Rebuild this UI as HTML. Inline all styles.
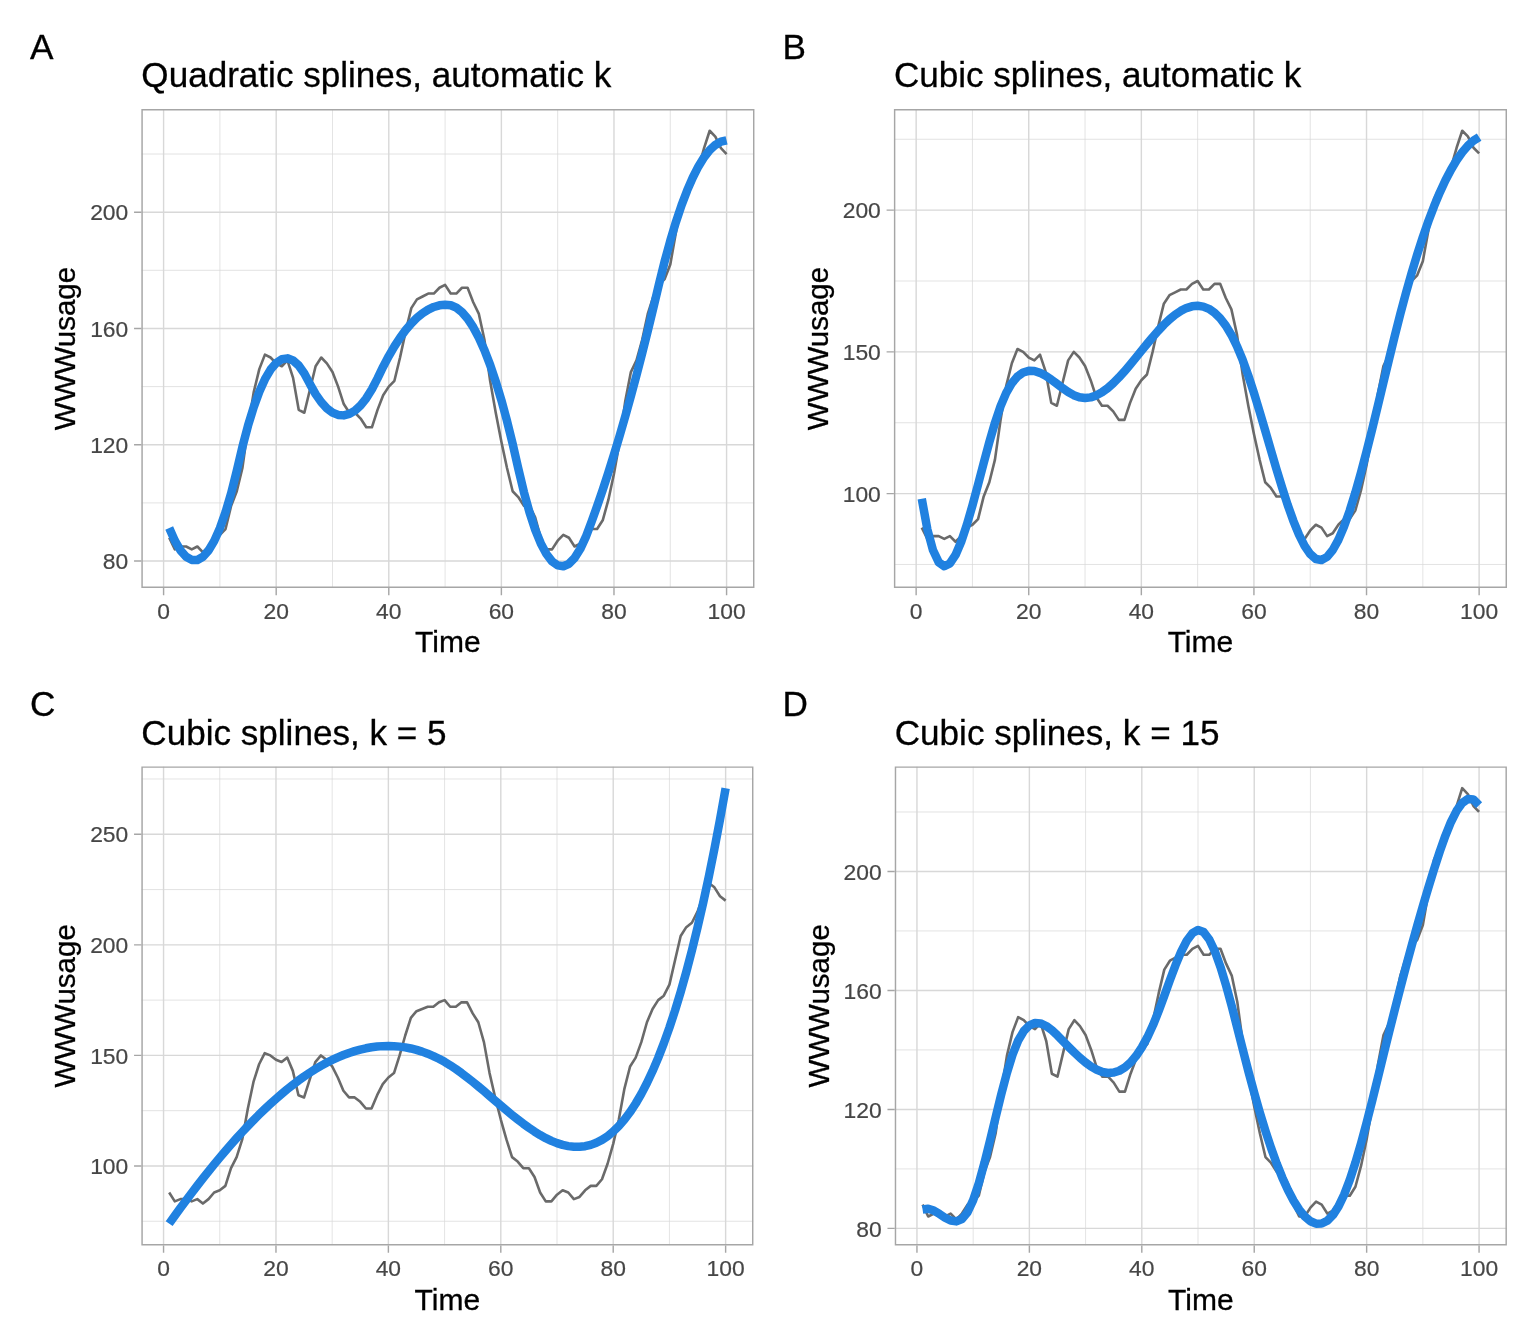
<!DOCTYPE html>
<html lang="en"><head><meta charset="utf-8"><title>Spline smoothing of WWWusage</title>
<style>html,body{margin:0;padding:0;background:#fff}svg{display:block}</style></head>
<body>
<svg width="1536" height="1344" viewBox="0 0 1536 1344" font-family='"Liberation Sans", sans-serif'>
<rect width="1536" height="1344" fill="#fff"/>
<clipPath id="cA"><rect x="141.35" y="109" width="613.1" height="479"/></clipPath>
<g clip-path="url(#cA)">
<path d="M141.35 502.88H754.45M141.35 386.6H754.45M141.35 270.31H754.45M141.35 154.03H754.45M219.89 109V588M332.49 109V588M445.09 109V588M557.68 109V588M670.28 109V588" stroke="#D8D8D8" stroke-width="0.71" fill="none"/>
<path d="M141.35 561.02H754.45M141.35 444.74H754.45M141.35 328.45H754.45M141.35 212.17H754.45M163.59 109V588M276.19 109V588M388.79 109V588M501.38 109V588M613.98 109V588M726.58 109V588" stroke="#D8D8D8" stroke-width="1.42" fill="none"/>
<polyline points="169.22,537.76 174.85,549.39 180.48,546.48 186.11,546.48 191.74,549.39 197.37,546.48 203,552.3 208.63,546.48 214.26,537.76 219.89,534.86 225.52,529.04 231.15,505.79 236.78,491.25 242.41,467.99 248.04,427.29 253.67,392.41 259.3,369.15 264.93,354.62 270.56,357.52 276.19,363.34 281.82,366.25 287.45,360.43 293.08,377.87 298.71,409.85 304.34,412.76 309.97,389.5 315.6,366.25 321.23,357.52 326.86,363.34 332.49,372.06 338.12,386.6 343.75,404.04 349.38,412.76 355.01,412.76 360.64,418.57 366.27,427.29 371.9,427.29 377.53,409.85 383.16,395.32 388.79,386.6 394.42,380.78 400.05,357.52 405.68,331.36 411.31,308.1 416.94,299.38 422.57,296.48 428.2,293.57 433.83,293.57 439.46,287.75 445.09,284.85 450.71,293.57 456.34,293.57 461.97,287.75 467.6,287.75 473.23,302.29 478.86,313.92 484.49,340.08 490.12,380.78 495.75,412.76 501.38,441.83 507.01,467.99 512.64,491.25 518.27,497.06 523.9,505.79 529.53,505.79 535.16,517.41 540.79,537.76 546.42,549.39 552.05,549.39 557.68,540.67 563.31,534.86 568.94,537.76 574.57,546.48 580.2,543.58 585.83,534.86 591.46,529.04 597.09,529.04 602.72,520.32 608.35,499.97 613.98,473.81 619.61,441.83 625.24,401.13 630.87,372.06 636.5,360.43 642.13,340.08 647.76,313.92 653.39,296.48 659.02,284.85 664.65,279.03 670.28,264.5 675.91,232.52 681.54,200.54 687.17,188.91 692.8,183.1 698.43,168.56 704.06,148.22 709.69,130.77 715.32,136.59 720.95,148.22 726.58,154.03" stroke="#6A6A6A" stroke-width="2.6" fill="none" stroke-linejoin="round"/>
<polyline points="169.22,527.98 174.85,540.75 180.48,550.33 186.11,556.72 191.74,559.93 197.37,559.95 203,556.78 208.63,550.43 214.26,540.9 219.89,528.17 225.52,512.27 231.15,493.17 236.78,470.9 242.41,446.93 248.04,425.61 253.67,407.22 259.3,391.75 264.93,379.22 270.56,369.61 276.19,362.93 281.82,359.18 287.45,358.35 293.08,360.46 298.71,365.49 304.34,373.45 309.97,384.12 315.6,394.07 321.23,402.13 326.86,408.29 332.49,412.55 338.12,414.92 343.75,415.38 349.38,413.95 355.01,410.63 360.64,405.4 366.27,398.27 371.9,389.25 377.53,378.33 383.16,366.69 388.79,356.03 394.42,346.39 400.05,337.74 405.68,330.1 411.31,323.46 416.94,317.83 422.57,313.2 428.2,309.58 433.83,306.96 439.46,305.34 445.09,304.73 450.71,305.25 456.34,307.68 461.97,312.14 467.6,318.63 473.23,327.15 478.86,337.7 484.49,350.29 490.12,364.9 495.75,381.55 501.38,400.23 507.01,420.94 512.64,443.69 518.27,468.44 523.9,492.07 529.53,512.44 535.16,529.56 540.79,543.41 546.42,554 552.05,561.34 557.68,565.41 563.31,566.23 568.94,563.78 574.57,558.08 580.2,549.11 585.83,536.89 591.46,522.02 597.09,506.3 602.72,489.82 608.35,472.59 613.98,454.62 619.61,435.89 625.24,416.42 630.87,396.2 636.5,375.23 642.13,353.51 647.76,331.04 653.39,307.82 659.02,283.98 664.65,261.4 670.28,240.76 675.91,222.04 681.54,205.25 687.17,190.39 692.8,177.45 698.43,166.44 704.06,157.36 709.69,150.2 715.32,144.98 720.95,141.68 726.58,140.3" stroke="#2081E0" stroke-width="8.5" fill="none" stroke-linejoin="round"/>
</g>
<path d="M141.35 109h613.1v479h-613.1zM142.8 110.45v476.1h610.2v-476.1z" fill="#A6A6A6" fill-rule="evenodd"/>
<path d="M134.05 561.02H141.35M134.05 444.74H141.35M134.05 328.45H141.35M134.05 212.17H141.35M163.59 588V595.3M276.19 588V595.3M388.79 588V595.3M501.38 588V595.3M613.98 588V595.3M726.58 588V595.3" stroke="#A6A6A6" stroke-width="1.42" fill="none"/>
<g font-size="22.85" fill="#464646" stroke="#464646" stroke-width="0.2">
<text x="128.25" y="569.12" text-anchor="end">80</text>
<text x="128.25" y="452.84" text-anchor="end">120</text>
<text x="128.25" y="336.55" text-anchor="end">160</text>
<text x="128.25" y="220.27" text-anchor="end">200</text>
<text x="163.59" y="618.9" text-anchor="middle">0</text>
<text x="276.19" y="618.9" text-anchor="middle">20</text>
<text x="388.79" y="618.9" text-anchor="middle">40</text>
<text x="501.38" y="618.9" text-anchor="middle">60</text>
<text x="613.98" y="618.9" text-anchor="middle">80</text>
<text x="726.58" y="618.9" text-anchor="middle">100</text>
</g>
<text x="447.9" y="652.4" font-size="30" text-anchor="middle" fill="#000" stroke="#000" stroke-width="0.3">Time</text>
<text transform="translate(75.45 348.5) rotate(-90)" font-size="29.5" text-anchor="middle" fill="#000" stroke="#000" stroke-width="0.3">WWWusage</text>
<text x="141.35" y="87.4" font-size="35.1" fill="#000" stroke="#000" stroke-width="0.3">Quadratic splines, automatic k</text>
<text x="30.05" y="58.7" font-size="35.2" fill="#000" stroke="#000" stroke-width="0.3">A</text>
<clipPath id="cB"><rect x="893.9" y="109" width="613.1" height="479"/></clipPath>
<g clip-path="url(#cB)">
<path d="M893.9 564.46H1507M893.9 422.73H1507M893.9 281H1507M893.9 139.28H1507M972.44 109V588M1085.04 109V588M1197.64 109V588M1310.23 109V588M1422.83 109V588" stroke="#D8D8D8" stroke-width="0.71" fill="none"/>
<path d="M893.9 493.59H1507M893.9 351.87H1507M893.9 210.14H1507M916.14 109V588M1028.74 109V588M1141.34 109V588M1253.93 109V588M1366.53 109V588M1479.13 109V588" stroke="#D8D8D8" stroke-width="1.42" fill="none"/>
<polyline points="921.77,527.61 927.4,538.95 933.03,536.11 938.66,536.11 944.29,538.95 949.92,536.11 955.55,541.78 961.18,536.11 966.81,527.61 972.44,524.77 978.07,519.11 983.7,496.43 989.33,482.26 994.96,459.58 1000.59,419.9 1006.22,385.88 1011.85,363.21 1017.48,349.03 1023.11,351.87 1028.74,357.54 1034.37,360.37 1040,354.7 1045.63,371.71 1051.26,402.89 1056.89,405.72 1062.52,383.05 1068.15,360.37 1073.78,351.87 1079.41,357.54 1085.04,366.04 1090.67,380.21 1096.3,397.22 1101.93,405.72 1107.56,405.72 1113.19,411.39 1118.82,419.9 1124.45,419.9 1130.08,402.89 1135.71,388.72 1141.34,380.21 1146.97,374.54 1152.6,351.87 1158.23,326.36 1163.86,303.68 1169.49,295.18 1175.12,292.34 1180.75,289.51 1186.38,289.51 1192.01,283.84 1197.64,281 1203.26,289.51 1208.89,289.51 1214.52,283.84 1220.15,283.84 1225.78,298.01 1231.41,309.35 1237.04,334.86 1242.67,374.54 1248.3,405.72 1253.93,434.07 1259.56,459.58 1265.19,482.26 1270.82,487.93 1276.45,496.43 1282.08,496.43 1287.71,507.77 1293.34,527.61 1298.97,538.95 1304.6,538.95 1310.23,530.44 1315.86,524.77 1321.49,527.61 1327.12,536.11 1332.75,533.28 1338.38,524.77 1344.01,519.11 1349.64,519.11 1355.27,510.6 1360.9,490.76 1366.53,465.25 1372.16,434.07 1377.79,394.39 1383.42,366.04 1389.05,354.7 1394.68,334.86 1400.31,309.35 1405.94,292.34 1411.57,281 1417.2,275.33 1422.83,261.16 1428.46,229.98 1434.09,198.8 1439.72,187.46 1445.35,181.79 1450.98,167.62 1456.61,147.78 1462.24,130.77 1467.87,136.44 1473.5,147.78 1479.13,153.45" stroke="#6A6A6A" stroke-width="2.6" fill="none" stroke-linejoin="round"/>
<polyline points="921.77,498.77 927.4,529.5 933.03,550.29 938.66,562.18 944.29,566.23 949.92,563.47 955.55,554.97 961.18,541.78 966.81,524.93 972.44,505.49 978.07,484.5 983.7,463.02 989.33,442.09 994.96,422.76 1000.59,406.08 1006.22,392.92 1011.85,383.18 1017.48,376.51 1023.11,372.51 1028.74,370.81 1034.37,371.05 1040,372.84 1045.63,375.8 1051.26,379.57 1056.89,383.77 1062.52,388.02 1068.15,391.95 1073.78,395.17 1079.41,397.32 1085.04,398.07 1090.67,397.38 1096.3,395.4 1101.93,392.29 1107.56,388.19 1113.19,383.24 1118.82,377.6 1124.45,371.4 1130.08,364.79 1135.71,357.92 1141.34,350.93 1146.97,343.98 1152.6,337.2 1158.23,330.75 1163.86,324.76 1169.49,319.38 1175.12,314.72 1180.75,310.91 1186.38,308.07 1192.01,306.32 1197.64,305.78 1203.26,306.59 1208.89,308.85 1214.52,312.7 1220.15,318.25 1225.78,325.64 1231.41,334.97 1237.04,346.38 1242.67,359.98 1248.3,375.64 1253.93,392.92 1259.56,411.37 1265.19,430.52 1270.82,449.91 1276.45,469.09 1282.08,487.6 1287.71,504.99 1293.34,520.79 1298.97,534.54 1304.6,545.79 1310.23,554.08 1315.86,558.95 1321.49,559.95 1327.12,556.87 1332.75,550.04 1338.38,539.85 1344.01,526.66 1349.64,510.86 1355.27,492.84 1360.9,472.96 1366.53,451.62 1372.16,429.19 1377.79,406.05 1383.42,382.58 1389.05,359.17 1394.68,336.19 1400.31,314.03 1405.94,292.99 1411.57,273.14 1417.2,254.51 1422.83,237.13 1428.46,221.01 1434.09,206.18 1439.72,192.68 1445.35,180.51 1450.98,169.71 1456.61,160.3 1462.24,152.31 1467.87,145.76 1473.5,140.68 1479.13,137.08" stroke="#2081E0" stroke-width="8.5" fill="none" stroke-linejoin="round"/>
</g>
<path d="M893.9 109h613.1v479h-613.1zM895.35 110.45v476.1h610.2v-476.1z" fill="#A6A6A6" fill-rule="evenodd"/>
<path d="M886.6 493.59H893.9M886.6 351.87H893.9M886.6 210.14H893.9M916.14 588V595.3M1028.74 588V595.3M1141.34 588V595.3M1253.93 588V595.3M1366.53 588V595.3M1479.13 588V595.3" stroke="#A6A6A6" stroke-width="1.42" fill="none"/>
<g font-size="22.85" fill="#464646" stroke="#464646" stroke-width="0.2">
<text x="880.8" y="501.69" text-anchor="end">100</text>
<text x="880.8" y="359.97" text-anchor="end">150</text>
<text x="880.8" y="218.24" text-anchor="end">200</text>
<text x="916.14" y="618.9" text-anchor="middle">0</text>
<text x="1028.74" y="618.9" text-anchor="middle">20</text>
<text x="1141.34" y="618.9" text-anchor="middle">40</text>
<text x="1253.93" y="618.9" text-anchor="middle">60</text>
<text x="1366.53" y="618.9" text-anchor="middle">80</text>
<text x="1479.13" y="618.9" text-anchor="middle">100</text>
</g>
<text x="1200.45" y="652.4" font-size="30" text-anchor="middle" fill="#000" stroke="#000" stroke-width="0.3">Time</text>
<text transform="translate(828 348.5) rotate(-90)" font-size="29.5" text-anchor="middle" fill="#000" stroke="#000" stroke-width="0.3">WWWusage</text>
<text x="893.9" y="87.4" font-size="35.1" fill="#000" stroke="#000" stroke-width="0.3">Cubic splines, automatic k</text>
<text x="782.6" y="58.7" font-size="35.2" fill="#000" stroke="#000" stroke-width="0.3">B</text>
<clipPath id="cC"><rect x="141.35" y="766.4" width="612.1" height="479"/></clipPath>
<g clip-path="url(#cC)">
<path d="M141.35 1221.25H753.45M141.35 1110.68H753.45M141.35 1000.12H753.45M141.35 889.55H753.45M141.35 778.99H753.45M219.76 766.4V1245.4M332.17 766.4V1245.4M444.59 766.4V1245.4M557 766.4V1245.4M669.42 766.4V1245.4" stroke="#D8D8D8" stroke-width="0.71" fill="none"/>
<path d="M141.35 1165.97H753.45M141.35 1055.4H753.45M141.35 944.84H753.45M141.35 834.27H753.45M163.55 766.4V1245.4M275.97 766.4V1245.4M388.38 766.4V1245.4M500.8 766.4V1245.4M613.21 766.4V1245.4M725.63 766.4V1245.4" stroke="#D8D8D8" stroke-width="1.42" fill="none"/>
<polyline points="169.17,1192.5 174.79,1201.35 180.41,1199.14 186.03,1199.14 191.66,1201.35 197.28,1199.14 202.9,1203.56 208.52,1199.14 214.14,1192.5 219.76,1190.29 225.38,1185.87 231,1168.18 236.62,1157.12 242.24,1139.43 247.86,1108.47 253.48,1081.94 259.1,1064.25 264.73,1053.19 270.35,1055.4 275.97,1059.82 281.59,1062.04 287.21,1057.61 292.83,1070.88 298.45,1095.2 304.07,1097.42 309.69,1079.73 315.31,1062.04 320.93,1055.4 326.55,1059.82 332.17,1066.46 337.8,1077.51 343.42,1090.78 349.04,1097.42 354.66,1097.42 360.28,1101.84 365.9,1108.47 371.52,1108.47 377.14,1095.2 382.76,1084.15 388.38,1077.51 394,1073.09 399.62,1055.4 405.24,1035.5 410.87,1017.81 416.49,1011.18 422.11,1008.96 427.73,1006.75 433.35,1006.75 438.97,1002.33 444.59,1000.12 450.21,1006.75 455.83,1006.75 461.45,1002.33 467.07,1002.33 472.69,1013.39 478.31,1022.23 483.93,1042.13 489.56,1073.09 495.18,1097.42 500.8,1119.53 506.42,1139.43 512.04,1157.12 517.66,1161.54 523.28,1168.18 528.9,1168.18 534.52,1177.02 540.14,1192.5 545.76,1201.35 551.38,1201.35 557,1194.71 562.63,1190.29 568.25,1192.5 573.87,1199.14 579.49,1196.92 585.11,1190.29 590.73,1185.87 596.35,1185.87 601.97,1179.23 607.59,1163.75 613.21,1143.85 618.83,1119.53 624.45,1088.57 630.07,1066.46 635.7,1057.61 641.32,1042.13 646.94,1022.23 652.56,1008.96 658.18,1000.12 663.8,995.7 669.42,984.64 675.04,960.32 680.66,935.99 686.28,927.15 691.9,922.72 697.52,911.67 703.14,896.19 708.77,882.92 714.39,887.34 720.01,896.19 725.63,900.61" stroke="#6A6A6A" stroke-width="2.6" fill="none" stroke-linejoin="round"/>
<polyline points="169.17,1223.63 174.79,1215.8 180.41,1208.09 186.03,1200.49 191.66,1193.01 197.28,1185.66 202.9,1178.44 208.52,1171.36 214.14,1164.42 219.76,1157.63 225.38,1150.98 231,1144.5 236.62,1138.17 242.24,1132.01 247.86,1126.01 253.48,1120.2 259.1,1114.56 264.73,1109.11 270.35,1103.85 275.97,1098.79 281.59,1093.92 287.21,1089.26 292.83,1084.81 298.45,1080.58 304.07,1076.56 309.69,1072.77 315.31,1069.21 320.93,1065.88 326.55,1062.79 332.17,1059.95 337.8,1057.35 343.42,1055.01 349.04,1052.93 354.66,1051.11 360.28,1049.56 365.9,1048.28 371.52,1047.28 377.14,1046.56 382.76,1046.13 388.38,1046 394,1046.16 399.62,1046.63 405.24,1047.4 410.87,1048.49 416.49,1049.89 422.11,1051.62 427.73,1053.67 433.35,1056.06 438.97,1058.78 444.59,1061.85 450.21,1065.26 455.83,1069 461.45,1073.02 467.07,1077.29 472.69,1081.75 478.31,1086.37 483.93,1091.1 489.56,1095.89 495.18,1100.72 500.8,1105.53 506.42,1110.27 512.04,1114.92 517.66,1119.41 523.28,1123.72 528.9,1127.79 534.52,1131.59 540.14,1135.07 545.76,1138.18 551.38,1140.89 557,1143.15 562.63,1144.92 568.25,1146.15 573.87,1146.8 579.49,1146.84 585.11,1146.21 590.73,1144.87 596.35,1142.77 601.97,1139.89 607.59,1136.17 613.21,1131.57 618.83,1126.04 624.45,1119.55 630.07,1112.04 635.7,1103.49 641.32,1093.84 646.94,1083.05 652.56,1071.07 658.18,1057.87 663.8,1043.4 669.42,1027.62 675.04,1010.49 680.66,991.96 686.28,971.98 691.9,950.52 697.52,927.53 703.14,902.98 708.77,876.8 714.39,848.98 720.01,819.45 725.63,788.17" stroke="#2081E0" stroke-width="8.5" fill="none" stroke-linejoin="round"/>
</g>
<path d="M141.35 766.4h612.1v479h-612.1zM142.8 767.85v476.1h609.2v-476.1z" fill="#A6A6A6" fill-rule="evenodd"/>
<path d="M134.05 1165.97H141.35M134.05 1055.4H141.35M134.05 944.84H141.35M134.05 834.27H141.35M163.55 1245.4V1252.7M275.97 1245.4V1252.7M388.38 1245.4V1252.7M500.8 1245.4V1252.7M613.21 1245.4V1252.7M725.63 1245.4V1252.7" stroke="#A6A6A6" stroke-width="1.42" fill="none"/>
<g font-size="22.85" fill="#464646" stroke="#464646" stroke-width="0.2">
<text x="128.25" y="1174.07" text-anchor="end">100</text>
<text x="128.25" y="1063.5" text-anchor="end">150</text>
<text x="128.25" y="952.94" text-anchor="end">200</text>
<text x="128.25" y="842.37" text-anchor="end">250</text>
<text x="163.55" y="1276.3" text-anchor="middle">0</text>
<text x="275.97" y="1276.3" text-anchor="middle">20</text>
<text x="388.38" y="1276.3" text-anchor="middle">40</text>
<text x="500.8" y="1276.3" text-anchor="middle">60</text>
<text x="613.21" y="1276.3" text-anchor="middle">80</text>
<text x="725.63" y="1276.3" text-anchor="middle">100</text>
</g>
<text x="447.4" y="1309.8" font-size="30" text-anchor="middle" fill="#000" stroke="#000" stroke-width="0.3">Time</text>
<text transform="translate(75.45 1005.9) rotate(-90)" font-size="29.5" text-anchor="middle" fill="#000" stroke="#000" stroke-width="0.3">WWWusage</text>
<text x="141.35" y="744.8" font-size="35.1" fill="#000" stroke="#000" stroke-width="0.3">Cubic splines, k = 5</text>
<text x="30.05" y="716.1" font-size="35.2" fill="#000" stroke="#000" stroke-width="0.3">C</text>
<clipPath id="cD"><rect x="894.75" y="766.4" width="612.15" height="479"/></clipPath>
<g clip-path="url(#cD)">
<path d="M894.75 1168.92H1506.9M894.75 1049.93H1506.9M894.75 930.95H1506.9M894.75 811.97H1506.9M973.17 766.4V1245.4M1085.59 766.4V1245.4M1198.01 766.4V1245.4M1310.44 766.4V1245.4M1422.86 766.4V1245.4" stroke="#D8D8D8" stroke-width="0.71" fill="none"/>
<path d="M894.75 1228.41H1506.9M894.75 1109.42H1506.9M894.75 990.44H1506.9M894.75 871.46H1506.9M916.95 766.4V1245.4M1029.38 766.4V1245.4M1141.8 766.4V1245.4M1254.23 766.4V1245.4M1366.65 766.4V1245.4M1479.07 766.4V1245.4" stroke="#D8D8D8" stroke-width="1.42" fill="none"/>
<polyline points="922.58,1204.61 928.2,1216.51 933.82,1213.53 939.44,1213.53 945.06,1216.51 950.68,1213.53 956.3,1219.48 961.92,1213.53 967.54,1204.61 973.17,1201.64 978.79,1195.69 984.41,1171.89 990.03,1157.02 995.65,1133.22 1001.27,1091.58 1006.89,1055.88 1012.51,1032.09 1018.14,1017.21 1023.76,1020.19 1029.38,1026.14 1035,1029.11 1040.62,1023.16 1046.24,1041.01 1051.86,1073.73 1057.48,1076.7 1063.11,1052.91 1068.73,1029.11 1074.35,1020.19 1079.97,1026.14 1085.59,1035.06 1091.21,1049.93 1096.83,1067.78 1102.45,1076.7 1108.08,1076.7 1113.7,1082.65 1119.32,1091.58 1124.94,1091.58 1130.56,1073.73 1136.18,1058.86 1141.8,1049.93 1147.42,1043.98 1153.04,1020.19 1158.67,993.42 1164.29,969.62 1169.91,960.7 1175.53,957.72 1181.15,954.75 1186.77,954.75 1192.39,948.8 1198.01,945.82 1203.64,954.75 1209.26,954.75 1214.88,948.8 1220.5,948.8 1226.12,963.67 1231.74,975.57 1237.36,1002.34 1242.98,1043.98 1248.61,1076.7 1254.23,1106.45 1259.85,1133.22 1265.47,1157.02 1271.09,1162.97 1276.71,1171.89 1282.33,1171.89 1287.95,1183.79 1293.58,1204.61 1299.2,1216.51 1304.82,1216.51 1310.44,1207.58 1316.06,1201.64 1321.68,1204.61 1327.3,1213.53 1332.92,1210.56 1338.54,1201.64 1344.17,1195.69 1349.79,1195.69 1355.41,1186.76 1361.03,1165.94 1366.65,1139.17 1372.27,1106.45 1377.89,1064.81 1383.51,1035.06 1389.14,1023.16 1394.76,1002.34 1400.38,975.57 1406,957.72 1411.62,945.82 1417.24,939.88 1422.86,925 1428.48,892.28 1434.11,859.56 1439.73,847.66 1445.35,841.71 1450.97,826.84 1456.59,806.02 1462.21,788.17 1467.83,794.12 1473.45,806.02 1479.07,811.97" stroke="#6A6A6A" stroke-width="2.6" fill="none" stroke-linejoin="round"/>
<polyline points="922.58,1209.55 928.2,1208.7 933.82,1210.57 939.44,1213.96 945.06,1217.68 950.68,1220.56 956.3,1221.41 961.92,1219.04 967.54,1212.26 973.17,1200.12 978.79,1183.27 984.41,1162.97 990.03,1140.51 995.65,1117.18 1001.27,1094.26 1006.89,1073.02 1012.51,1054.75 1018.14,1040.68 1023.76,1031.07 1029.38,1025.37 1035,1023 1040.62,1023.4 1046.24,1025.99 1051.86,1030.19 1057.48,1035.44 1063.11,1041.16 1068.73,1046.91 1074.35,1052.5 1079.97,1057.76 1085.59,1062.51 1091.21,1066.58 1096.83,1069.79 1102.45,1071.97 1108.08,1072.95 1113.7,1072.56 1119.32,1070.73 1124.94,1067.37 1130.56,1062.4 1136.18,1055.77 1141.8,1047.38 1147.42,1037.17 1153.04,1025.05 1158.67,1011.04 1164.29,995.76 1169.91,980.15 1175.53,965.15 1181.15,951.69 1186.77,940.71 1192.39,933.17 1198.01,929.99 1203.64,932.07 1209.26,939.48 1214.88,951.43 1220.5,967.09 1226.12,985.63 1231.74,1006.23 1237.36,1028.07 1242.98,1050.31 1248.61,1072.14 1254.23,1092.95 1259.85,1112.6 1265.47,1130.98 1271.09,1148.02 1276.71,1163.6 1282.33,1177.66 1287.95,1190.08 1293.58,1200.77 1299.2,1209.64 1304.82,1216.52 1310.44,1221.24 1316.06,1223.63 1321.68,1223.51 1327.3,1220.72 1332.92,1215.08 1338.54,1206.42 1344.17,1194.61 1349.79,1179.87 1355.41,1162.64 1361.03,1143.37 1366.65,1122.5 1372.27,1100.49 1377.89,1077.78 1383.51,1054.82 1389.14,1032.03 1394.76,1009.7 1400.38,987.85 1406,966.53 1411.62,945.77 1417.24,925.6 1422.86,906.05 1428.48,887.17 1434.11,868.97 1439.73,851.66 1445.35,835.78 1450.97,821.97 1456.59,810.82 1462.21,802.97 1467.83,799.02 1473.45,799.59 1479.07,805.31" stroke="#2081E0" stroke-width="8.5" fill="none" stroke-linejoin="round"/>
</g>
<path d="M894.75 766.4h612.15v479h-612.15zM896.2 767.85v476.1h609.25v-476.1z" fill="#A6A6A6" fill-rule="evenodd"/>
<path d="M887.45 1228.41H894.75M887.45 1109.42H894.75M887.45 990.44H894.75M887.45 871.46H894.75M916.95 1245.4V1252.7M1029.38 1245.4V1252.7M1141.8 1245.4V1252.7M1254.23 1245.4V1252.7M1366.65 1245.4V1252.7M1479.07 1245.4V1252.7" stroke="#A6A6A6" stroke-width="1.42" fill="none"/>
<g font-size="22.85" fill="#464646" stroke="#464646" stroke-width="0.2">
<text x="881.65" y="1236.51" text-anchor="end">80</text>
<text x="881.65" y="1117.52" text-anchor="end">120</text>
<text x="881.65" y="998.54" text-anchor="end">160</text>
<text x="881.65" y="879.56" text-anchor="end">200</text>
<text x="916.95" y="1276.3" text-anchor="middle">0</text>
<text x="1029.38" y="1276.3" text-anchor="middle">20</text>
<text x="1141.8" y="1276.3" text-anchor="middle">40</text>
<text x="1254.23" y="1276.3" text-anchor="middle">60</text>
<text x="1366.65" y="1276.3" text-anchor="middle">80</text>
<text x="1479.07" y="1276.3" text-anchor="middle">100</text>
</g>
<text x="1200.83" y="1309.8" font-size="30" text-anchor="middle" fill="#000" stroke="#000" stroke-width="0.3">Time</text>
<text transform="translate(828.85 1005.9) rotate(-90)" font-size="29.5" text-anchor="middle" fill="#000" stroke="#000" stroke-width="0.3">WWWusage</text>
<text x="894.75" y="744.8" font-size="35.1" fill="#000" stroke="#000" stroke-width="0.3">Cubic splines, k = 15</text>
<text x="782.6" y="716.1" font-size="35.2" fill="#000" stroke="#000" stroke-width="0.3">D</text>
</svg>
</body></html>
